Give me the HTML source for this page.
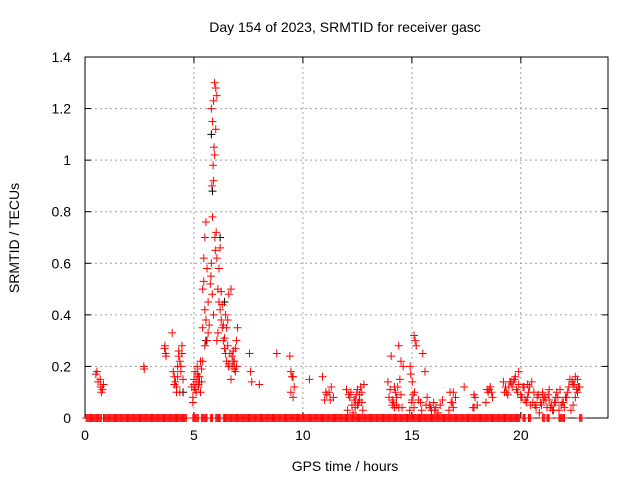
<!DOCTYPE html>
<html><head><meta charset="utf-8"><style>
html,body{margin:0;padding:0;background:#fff;}
svg{display:block;font-family:"Liberation Sans",sans-serif;}
</style></head><body>
<svg id="chart" width="640" height="480" viewBox="0 0 640 480">
<text x="345" y="32" font-size="14" text-anchor="middle">Day 154 of 2023, SRMTID for receiver gasc</text>
<text x="345" y="471" font-size="14" text-anchor="middle">GPS time / hours</text>
<text transform="translate(19,238) rotate(-90)" font-size="14" text-anchor="middle">SRMTID / TECUs</text>
<g id="grid"></g>
<g id="axes"></g>
<g id="marks"></g>
</svg>
<script>
const xTicks = [0,5,10,15,20];
const yTicks = [0,0.2,0.4,0.6,0.8,1,1.2,1.4];
const yTickLabels = ["0","0.2","0.4","0.6","0.8","1","1.2","1.4"];
const zeroTimes = [0.05,0.2,0.35,0.5,0.65,0.85,1.0,1.15,1.3,1.45,1.6,1.75,1.9,2.05,2.2,2.35,2.5,2.65,2.8,2.95,3.1,3.25,3.4,3.55,3.7,3.85,4.0,4.15,4.3,4.45,4.55,4.95,5.1,5.35,5.5,5.75,6.0,6.1,6.35,6.5,6.65,6.8,6.95,7.1,7.25,7.4,7.55,7.7,7.85,8.0,8.15,8.3,8.45,8.6,8.75,8.9,9.05,9.2,9.35,9.5,9.65,9.8,9.95,10.1,10.25,10.4,10.55,10.7,10.85,11.0,11.15,11.3,11.45,11.6,11.75,11.9,12.05,12.2,12.35,12.5,12.65,12.8,12.95,13.1,13.25,13.4,13.55,13.7,13.85,14.0,14.15,14.3,14.45,14.6,14.75,14.9,15.05,15.2,15.35,15.5,15.65,15.8,15.95,16.1,16.25,16.4,16.55,16.7,16.85,17.0,17.15,17.3,17.45,17.6,17.75,17.9,18.05,18.2,18.35,18.5,18.65,18.8,18.95,19.1,19.25,19.4,19.55,19.7,19.85,20.1,20.35,21.0,21.2,21.75,21.9,22.7];
const redTimes = [0.5,0.55,0.6,0.7,0.72,0.75,0.8,0.85,2.7,2.72,3.65,3.67,3.7,3.72,4.0,4.05,4.1,4.15,4.2,4.25,4.3,4.35,4.4,4.45,4.5,4.2,4.3,4.4,4.45,4.9,4.95,5.0,5.05,5.1,5.15,5.2,5.25,5.3,5.35,4.95,5.05,5.15,5.25,5.35,5.0,5.2,5.4,5.45,5.5,5.55,5.6,5.65,5.4,5.45,5.5,5.55,5.6,5.4,5.5,5.65,5.7,5.75,5.8,5.85,5.9,5.95,6.0,6.05,5.8,5.85,5.9,5.95,6.0,5.82,5.88,5.92,5.98,6.02,5.78,5.84,5.9,5.96,6.05,6.1,6.15,6.2,6.25,6.3,6.35,6.4,6.45,6.5,6.05,6.1,6.15,6.2,6.25,6.3,6.35,6.4,6.45,6.5,6.55,6.6,6.65,6.7,6.75,6.8,6.85,6.9,6.95,7.0,6.55,6.6,6.7,6.8,6.9,6.95,7.55,7.6,7.65,8.0,8.8,9.4,9.45,9.5,9.55,9.6,9.45,9.55,10.3,10.9,11.0,11.1,11.2,11.3,11.4,11.05,11.25,12.0,12.1,12.2,12.3,12.4,12.5,12.6,12.7,12.8,12.15,12.35,12.55,12.75,12.45,12.65,13.9,14.0,14.1,14.2,14.3,14.4,14.5,14.6,14.05,14.25,14.45,13.95,14.15,14.35,14.55,14.9,14.95,15.0,15.05,15.1,15.15,15.2,14.92,15.02,15.12,15.4,15.5,15.6,15.7,15.8,15.9,16.0,16.1,16.2,16.3,16.4,16.7,16.8,16.9,17.0,16.75,16.85,17.4,17.8,17.9,18.0,17.85,18.4,18.5,18.6,18.7,18.55,19.2,19.3,19.4,19.5,19.6,19.7,19.8,19.9,19.35,19.55,19.75,19.9,20.0,20.1,20.2,20.3,20.4,20.05,20.25,20.5,20.6,20.7,20.8,20.9,21.0,21.1,21.2,21.3,21.4,21.5,21.6,21.7,21.8,20.65,20.85,21.05,21.25,21.45,21.65,21.9,22.0,22.1,22.2,22.3,22.4,22.5,22.6,22.7,22.25,22.45,22.55];
const redValues = [0.17,0.18,0.14,0.15,0.12,0.10,0.11,0.13,0.2,0.19,0.27,0.28,0.25,0.24,0.33,0.18,0.16,0.14,0.12,0.2,0.26,0.22,0.18,0.25,0.15,0.1,0.24,0.2,0.28,0.12,0.08,0.15,0.18,0.1,0.2,0.13,0.16,0.22,0.14,0.06,0.11,0.17,0.14,0.19,0.12,0.16,0.35,0.62,0.7,0.76,0.58,0.45,0.5,0.53,0.42,0.38,0.3,0.22,0.28,0.33,0.36,0.52,0.6,0.78,0.92,1.02,1.12,1.25,1.2,1.15,1.23,1.3,1.28,0.9,0.98,1.05,0.65,0.72,0.55,0.48,0.4,0.7,0.62,0.5,0.45,0.42,0.38,0.35,0.3,0.27,0.25,0.22,0.3,0.33,0.58,0.66,0.49,0.44,0.36,0.31,0.4,0.35,0.28,0.2,0.25,0.15,0.2,0.26,0.22,0.18,0.3,0.35,0.38,0.48,0.5,0.22,0.27,0.2,0.25,0.18,0.14,0.13,0.25,0.24,0.18,0.16,0.16,0.12,0.1,0.08,0.15,0.16,0.07,0.09,0.1,0.12,0.08,0.1,0.07,0.11,0.09,0.1,0.02,0.04,0.05,0.07,0.1,0.13,0.08,0.07,0.06,0.03,0.09,0.12,0.14,0.11,0.05,0.04,0.08,0.28,0.22,0.2,0.24,0.1,0.15,0.08,0.06,0.12,0.04,0.03,0.17,0.07,0.09,0.32,0.3,0.28,0.2,0.14,0.1,0.06,0.25,0.18,0.08,0.05,0.03,0.06,0.04,0.02,0.05,0.07,0.03,0.06,0.04,0.08,0.1,0.06,0.12,0.04,0.08,0.05,0.04,0.06,0.1,0.12,0.08,0.11,0.14,0.12,0.09,0.14,0.12,0.15,0.11,0.13,0.1,0.14,0.16,0.18,0.08,0.12,0.07,0.13,0.12,0.08,0.06,0.14,0.1,0.04,0.09,0.06,0.1,0.08,0.04,0.07,0.05,0.03,0.06,0.08,0.11,0.05,0.02,0.07,0.09,0.03,0.1,0.06,0.04,0.08,0.12,0.03,0.05,0.08,0.1,0.12,0.15,0.13,0.11,0.18,0.14,0.16,0.12,0.17,0.13];
const extraTimes = [4.1,4.25,4.35,5.0,5.1,5.2,5.3,6.6,6.75,6.85,12.05,12.25,12.4,12.6,12.7,12.5,14.1,14.3,14.5,14.2,14.4,15.0,15.1,15.3,15.45,15.65,15.85,16.05,16.9,17.85,18.45,18.65,19.25,19.45,19.65,19.85,20.0,20.15,20.35,20.55,20.75,20.95,21.15,21.35,21.55,21.75,21.85,21.95,22.05,22.15,22.35,22.5,22.65,22.6,22.4,20.3,20.45,21.0,21.3,21.6];
const extraValues = [0.13,0.16,0.1,0.13,0.14,0.12,0.1,0.21,0.24,0.19,0.03,0.05,0.07,0.09,0.06,0.11,0.07,0.05,0.09,0.12,0.04,0.06,0.04,0.07,0.03,0.05,0.04,0.03,0.1,0.09,0.11,0.1,0.1,0.12,0.14,0.1,0.09,0.12,0.1,0.06,0.08,0.05,0.07,0.04,0.06,0.03,0.05,0.06,0.08,0.1,0.14,0.16,0.12,0.15,0.13,0.08,0.05,0.09,0.11,0.08];
const blackTimes = [5.8,5.85,6.2,6.4,5.55,6.6,4.5];
const blackValues = [1.1,0.88,0.7,0.45,0.3,0.2,0.1];

const NS='http://www.w3.org/2000/svg';
const L=85,R=608,T=57,B=418;
const xs=h=>L+h*(R-L)/24;
const ys=v=>B-v*(B-T)/1.4;
function mk(tag,attrs,parent){const e=document.createElementNS(NS,tag);for(const k in attrs)e.setAttribute(k,attrs[k]);parent.appendChild(e);return e;}
const grid=document.getElementById('grid'),axes=document.getElementById('axes'),marks=document.getElementById('marks');
xTicks.forEach(t=>{
  if(t>0){const g=mk('line',{x1:xs(t),x2:xs(t),y1:T,y2:B,stroke:'#a0a0a0','stroke-dasharray':'2,3'},grid);
  
  }
  mk('line',{x1:xs(t),x2:xs(t),y1:B,y2:B-6,stroke:'#000'},axes);
  mk('line',{x1:xs(t),x2:xs(t),y1:T,y2:T+6,stroke:'#000'},axes);
  const tx=mk('text',{x:xs(t),y:B+22,'font-size':14,'text-anchor':'middle'},axes);
  tx.textContent=t;
  
  
});
yTicks.forEach((t,i)=>{
  if(t>0&&t<1.4){const g=mk('line',{x1:L,x2:R,y1:ys(t),y2:ys(t),stroke:'#a0a0a0','stroke-dasharray':'2,3'},grid);
  
  }
  mk('line',{x1:L,x2:L+6,y1:ys(t),y2:ys(t),stroke:'#000'},axes);
  mk('line',{x1:R,x2:R-6,y1:ys(t),y2:ys(t),stroke:'#000'},axes);
  const tx=mk('text',{x:L-14,y:ys(t)+5,'font-size':14,'text-anchor':'end'},axes);
  tx.textContent=yTickLabels[i];
  
  
});
const box=mk('rect',{x:L,y:T,width:R-L,height:B-T,fill:'none',stroke:'#000'},axes);


function plus(h,v,col){
  const x=xs(h),y=ys(v);
  const p=mk('path',{d:`M${x-4},${y}H${x+4}M${x},${y-4}V${y+4}`,stroke:col,'stroke-width':1,fill:'none'},marks);
  
  
}
blackTimes.forEach((h,i)=>plus(h,blackValues[i],'#000'));
zeroTimes.forEach(h=>{plus(h,0,'#f00');plus(h+0.05,0,'#f00');plus(h+0.1,0,'#f00');});
redTimes.forEach((h,i)=>plus(h,redValues[i],'#f00'));
extraTimes.forEach((h,i)=>plus(h,extraValues[i],'#f00'));
</script>
</body></html>
